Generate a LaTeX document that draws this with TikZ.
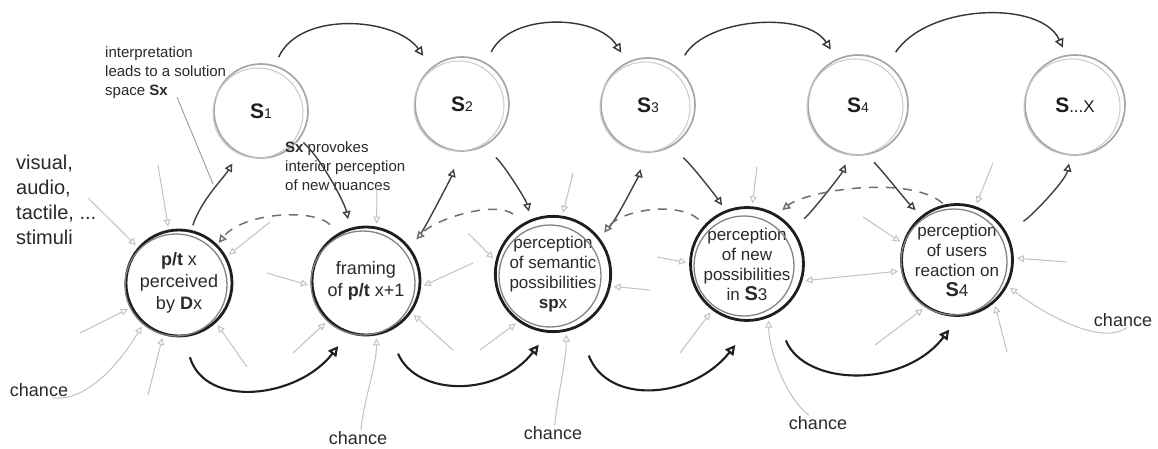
\documentclass[tikz,border=0pt]{standalone}
\usepackage{fontspec}
\setmainfont{Liberation Sans}
\usetikzlibrary{arrows.meta}
\definecolor{ink}{HTML}{1E1E1E}
\definecolor{topgray}{HTML}{A6A6A6}
\definecolor{lightg}{HTML}{C2C2C2}
\definecolor{dashg}{HTML}{707070}
\definecolor{txt}{HTML}{2A2A2A}
\newcommand{\mySlab}[1]{{\fontsize{21}{21}\selectfont\bfseries S}{\fontsize{14}{14}\selectfont #1}}
\newcommand{\bigS}{{\fontsize{20}{18}\selectfont\bfseries S}}
\begin{document}
\begin{tikzpicture}[x=1pt,y=-1pt,
  topc/.style={circle, draw=topgray, line width=1.7pt, minimum size=#1, inner sep=0pt, text=ink},
  botc/.style={circle, draw=ink, line width=2.8pt, minimum size=#1, inner sep=0pt, align=center, text=txt},
  topa/.style={draw=ink!90, line width=1.4pt, -{Triangle[open,length=9pt,width=9pt]}},
  arcb/.style={draw=ink, line width=2.1pt, -{Triangle[open,length=10pt,width=10pt]}},
  diag/.style={draw=ink!85, line width=1.4pt, -{Triangle[open,length=8pt,width=8pt]}},
  dashc/.style={draw=dashg, line width=1.5pt, dash pattern=on 9pt off 8pt, -{Triangle[open,length=8pt,width=8pt]}},
  stim/.style={draw=lightg, line width=1pt, -{Triangle[open,length=7pt,width=7pt]}, shorten >=3pt},
  lbl/.style={font=\fontsize{18}{22}\selectfont, text=txt, inner sep=1pt},
  ann/.style={font=\fontsize{15}{19}\selectfont, text=txt, align=left, inner sep=0pt, anchor=north west},
  lead/.style={draw=lightg!80!black, line width=0.9pt}
]
\fill[white] (0,0) rectangle (1158,449);
\useasboundingbox (0,0) rectangle (1158,449);

% top solution-space circles
\node[topc=94pt] (s1) at (261,111) {\mySlab{1}};
\node[topc=94pt] (s2) at (462,104) {\mySlab{2}};
\node[topc=94pt] (s3) at (648,105) {\mySlab{3}};
\node[topc=100pt] (s4) at (858,105) {\mySlab{4}};
\node[topc=100pt] (s5) at (1075,105) {{\fontsize{21}{21}\selectfont\bfseries S}{\fontsize{17}{17}\selectfont ...X}};
\foreach \n/\r in {s1/45,s2/45,s3/45,s4/48,s5/48}
  \draw[topgray!60, line width=1pt] ([shift={(-3,2)}]\n.center) circle[radius=\r pt];

% bottom perception circles
\node[botc=106pt, font=\fontsize{18}{22}\selectfont] (p1) at (179,283) {\textbf{p/t} x\\perceived\\by \textbf{D}x};
\node[botc=108pt, font=\fontsize{18}{22}\selectfont] (p2) at (366,281) {framing\\of \textbf{p/t} x+1};
\node[botc=106pt, font=\fontsize{17}{20}\selectfont] (p3) at (553,274) {perception\\of semantic\\possibilities\\\textbf{sp}x};
\node[botc=104pt, font=\fontsize{17}{20}\selectfont] (p4) at (747,264) {perception\\of new\\possibilities\\in \bigS3};
\node[botc=110pt, font=\fontsize{17}{20}\selectfont] (p5) at (957,260) {perception\\of users\\reaction on\\\bigS4};
\foreach \n/\r in {p1/51,p2/52,p3/51,p4/50,p5/53}
  \draw[ink!55, line width=1.3pt] ([shift={(-3,2)}]\n.center) circle[radius=\r pt];

% annotations
\node[ann] (ann1) at (105,46) {interpretation\\leads to a solution\\space \textbf{Sx}};
\node[ann] (ann2) at (285,141) {\textbf{Sx} provokes\\interior perception\\of new nuances};
\node[ann, font=\fontsize{20}{25}\selectfont] (stimtxt) at (16,155) {visual,\\audio,\\tactile, ...\\stimuli};

% chance labels
\node[lbl] (ch1) at (39,390) {chance};
\node[lbl] (ch2) at (358,438) {chance};
\node[lbl] (ch3) at (553,433) {chance};
\node[lbl] (ch4) at (818,423) {chance};
\node[lbl] (ch5) at (1123,320) {chance};

% light stimulus arrows
\foreach \n/\sx/\sy/\t in {
  q1/88/198/p1.139, q2/158/165/p1.101, q3/270/222/p1.29, q4/80/333/p1.207,
  q5/148/395/p1.253, q6/247/367/p1.313,
  q7/267/273/p2.185, q8/293/353/p2.226, q9/377/185/p2.79, q10/453/350/p2.325, q11/473/263/p2.354,
  q12/468/233/p3.167, q13/573/173/p3.81, q14/480/350/p3.234, q15/650/290/p3.348,
  q16/657/257/p4.179, q17/757/167/p4.85, q18/680/353/p4.233,
  q19/863/217/p5.163, q20/993/163/p5.71, q21/1067/262/p5.2, q22/1007/352/p5.311, q23/875/345/p5.236}
  {\coordinate (\n) at (\sx,\sy); \draw[stim] (\n) -- (\t);}
\draw[stim, {Triangle[open,length=7pt,width=7pt]}-{Triangle[open,length=7pt,width=7pt]}, shorten <=3pt] (p4.343) -- (p5.191);

% chance arrows
\draw[stim] (ch1.-30) .. controls +(40,5) and +(-15,25) .. (p1.229);
\draw[stim] (ch2.70) .. controls +(3,-30) and +(0,30) .. (p2.281);
\draw[stim] (ch3.78) .. controls +(3,-30) and +(0,30) .. (p3.283);
\draw[stim] (ch4.140) .. controls +(-25,-20) and +(0,30) .. (p4.292);
\draw[stim] (ch5.-65) .. controls +(-30,20) and +(25,20) .. (p5.333);

% leader of the interpretation note
\coordinate (la) at (177,97);
\coordinate (lb) at (213,184);
\draw[lead] (la) -- (lb);

% top arcs between solution spaces
\draw[topa, shorten <=9pt, shorten >=14pt] (s1.73) .. controls +(25,-55) and +(-35,-50) .. (s2.130);
\draw[topa, shorten <=12pt, shorten >=11pt] (s2.60) .. controls +(25,-50) and +(-30,-48) .. (s3.116);
\draw[topa, shorten <=14pt, shorten >=11pt] (s3.52) .. controls +(30,-50) and +(-30,-48) .. (s4.115);
\draw[topa, shorten <=14pt, shorten >=8pt] (s4.54) .. controls +(40,-60) and +(-25,-55) .. (s5.100);

% bottom arcs between perceptions
\draw[arcb, shorten <=21pt, shorten >=16pt] (p1.275) .. controls +(22,72) and +(-50,65) .. (p2.251);
\draw[arcb, shorten <=24pt, shorten >=15pt] (p2.294) .. controls +(28,65) and +(-50,65) .. (p3.265);
\draw[arcb, shorten <=30pt, shorten >=30pt] (p3.295) .. controls +(30,78) and +(-62,78) .. (p4.277);
\draw[arcb, shorten <=28pt, shorten >=16pt] (p4.299) .. controls +(30,72) and +(-55,72) .. (p5.272);

% diagonal links
\draw[diag, shorten <=5pt, shorten >=12pt] (p1.77) .. controls +(10,-30) and +(-15,25) .. (s1.242);
\draw[diag, shorten <=5pt, shorten >=9pt] (s1.-36) .. controls +(22,20) and +(-5,-25) .. (p2.107);
\draw[diag, shorten <=18pt, shorten >=18pt] (p2.37) .. controls +(15,-20) and +(-8,25) .. (s2.267);
\draw[diag, shorten <=17pt, shorten >=8pt] (s2.295) .. controls +(20,15) and +(-5,-20) .. (p3.112);
\draw[diag, shorten <=14pt, shorten >=17pt] (p3.40) .. controls +(18,-15) and +(-5,20) .. (s3.266);
\draw[diag, shorten <=17pt, shorten >=6pt] (s3.297) .. controls +(20,15) and +(-10,-15) .. (p4.112);
\draw[diag, shorten <=15pt, shorten >=10pt] (p4.38) .. controls +(18,-15) and +(-8,20) .. (s4.260);
\draw[diag, shorten <=10pt, shorten >=8pt] (s4.280) .. controls +(15,15) and +(-15,-15) .. (p5.129);
\draw[diag, shorten <=20pt, shorten >=8pt] (p5.30) .. controls +(25,-15) and +(-5,25) .. (s5.265);

% dashed feedback arcs
\draw[dashc, shorten <=12pt, shorten >=2pt] (p2.120) .. controls +(-25,-25) and +(25,-32) .. (p1.45);
\draw[dashc, shorten <=14pt, shorten >=10pt] (p3.119) .. controls +(-30,-22) and +(25,-28) .. (p2.38);
\draw[dashc, shorten <=8pt, shorten >=7pt] (p4.137) .. controls +(-28,-24) and +(20,-28) .. (p3.37);
\draw[dashc, shorten <=2pt, shorten >=7pt] (p5.103) .. controls +(-35,-30) and +(30,-24) .. (p4.59);
\end{tikzpicture}
\end{document}
